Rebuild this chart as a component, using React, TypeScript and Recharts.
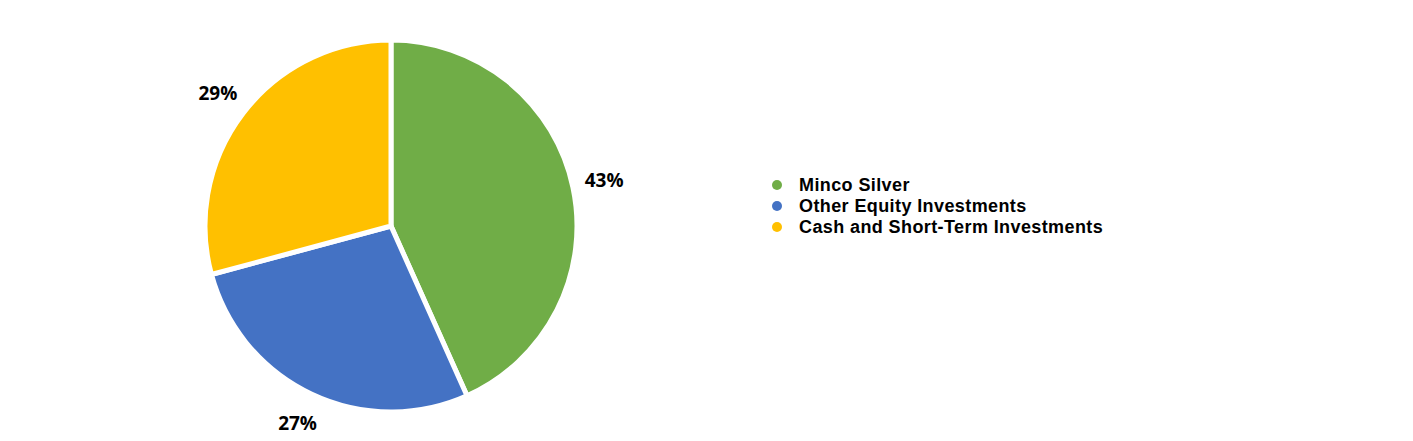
import React from "react";
import { PieChart, Pie, Cell, Legend } from "recharts";

const categories = ["Minco Silver", "Other Equity Investments", "Cash and Short-Term Investments"];
const values = [43.3, 27.5, 29.2];
const labels = ["43%", "27%", "29%"];
const colors = ["#70AD47", "#4472C4", "#FFC000"];

const data = categories.map((name, i) => ({ name, value: values[i], label: labels[i] }));

const FONT = "'Open Sans', Lato, sans-serif";
const LEGEND_FONT = "'Liberation Sans', Arial, sans-serif";
const RAD = Math.PI / 180;

const renderLabel = (props: any) => {
  const { cx, cy, midAngle, outerRadius, index } = props;
  const r = outerRadius + 32;
  const x = cx + r * Math.cos(-midAngle * RAD);
  const y = cy + r * Math.sin(-midAngle * RAD);
  return (
    <text
      x={x}
      y={y}
      textAnchor="middle"
      dominantBaseline="central"
      fill="#000"
      fontFamily={FONT}
      fontWeight={700}
      fontSize={19}
    >
      {labels[index]}
    </text>
  );
};

const renderLegend = () => (
  <div style={{ fontFamily: LEGEND_FONT, fontWeight: 700, fontSize: 18, letterSpacing: 0.4, color: "#000" }}>
    {categories.map((c, i) => (
      <div key={c} style={{ display: "flex", alignItems: "center", height: 21 }}>
        <span
          style={{
            display: "inline-block",
            width: 10,
            height: 10,
            borderRadius: 5,
            background: colors[i],
            marginRight: 17,
            flex: "none",
          }}
        />
        <span style={{ lineHeight: "20px", whiteSpace: "nowrap" }}>{c}</span>
      </div>
    ))}
  </div>
);

export default function App() {
  return (
    <div style={{ position: "absolute", left: 0, top: 0, width: 1413, height: 441, background: "#fff" }}>
      <PieChart width={1413} height={441} margin={{ top: 0, right: 0, bottom: 0, left: 0 }}>
        <Pie
          data={data}
          dataKey="value"
          nameKey="name"
          cx={391}
          cy={226}
          outerRadius={186}
          startAngle={90}
          endAngle={-270}
          stroke="#fff"
          strokeWidth={5}
          label={renderLabel}
          labelLine={false}
          isAnimationActive={false}
        >
          {data.map((d, i) => (
            <Cell key={d.name} fill={colors[i]} />
          ))}
        </Pie>
        <Legend
          content={renderLegend}
          wrapperStyle={{ position: "absolute", left: 772, top: 174, width: 400 }}
        />
      </PieChart>
    </div>
  );
}
